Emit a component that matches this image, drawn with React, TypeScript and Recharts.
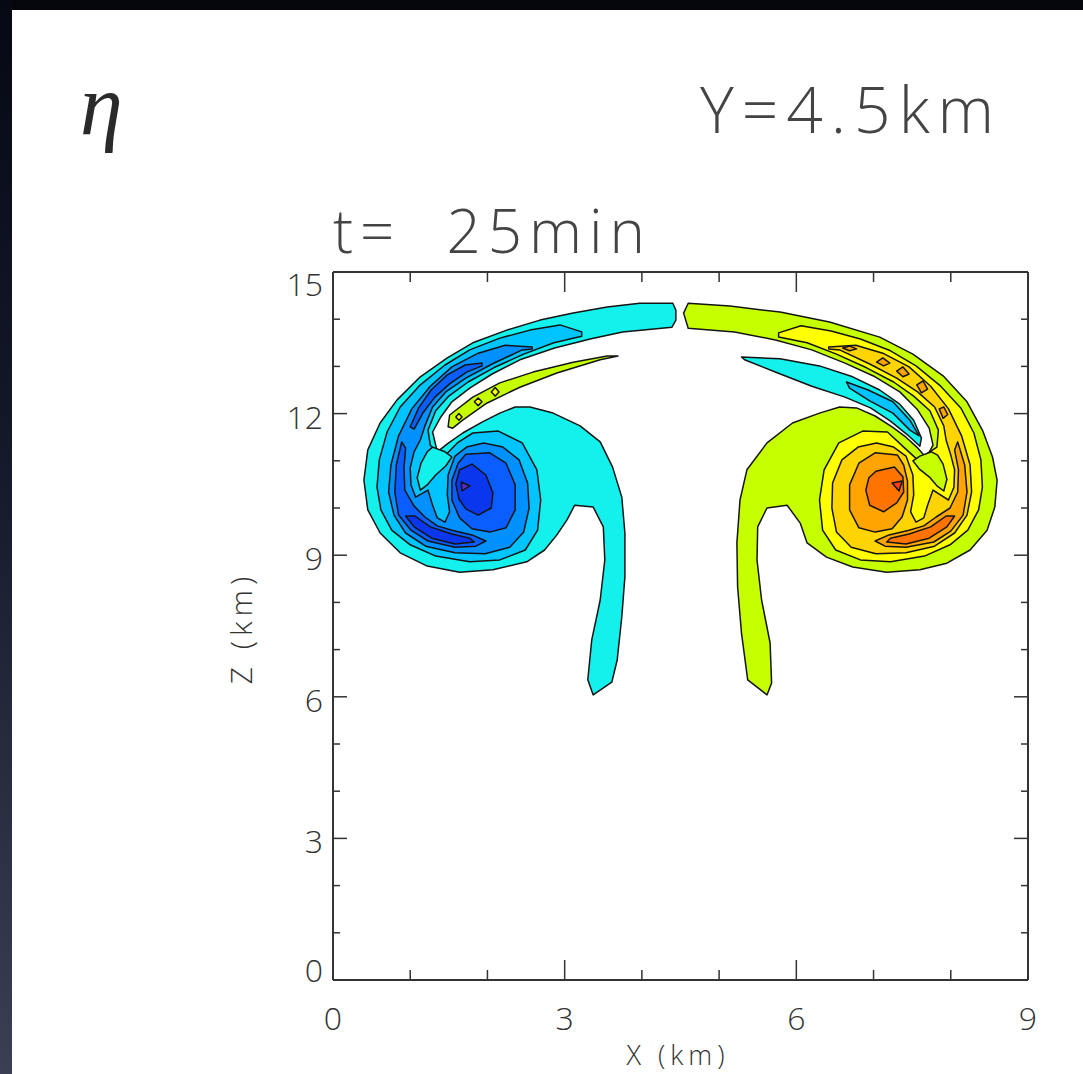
import React from "react";
import { ScatterChart, Scatter, XAxis, YAxis } from "recharts";

// contour polygons, vertices in km: [x, z]
const xTicks = [0, 1, 2, 3, 4, 5, 6, 7, 8, 9];
const zTicks = [0, 1, 2, 3, 4, 5, 6, 7, 8, 9, 10, 11, 12, 13, 14, 15];

// ---- left (negative) vortex ----
const leftLevel1 = [
  [4.40, 14.34], [4.44, 14.19], [4.44, 13.98], [4.39, 13.83], [3.75, 13.73], [3.33, 13.58], [2.87, 13.39],
  [2.42, 13.14], [2.06, 12.84], [1.77, 12.54], [1.54, 12.25], [1.39, 11.91], [1.29, 11.61], [1.35, 11.19],
  [1.48, 11.36], [1.68, 11.59], [1.93, 11.82], [2.16, 12.01], [2.36, 12.14], [2.55, 12.14], [2.85, 12.01],
  [3.20, 11.74], [3.46, 11.40], [3.62, 10.87], [3.74, 10.23], [3.78, 9.47], [3.78, 8.54], [3.74, 7.69],
  [3.68, 6.78], [3.61, 6.31], [3.37, 6.04], [3.30, 6.36], [3.35, 7.20], [3.46, 8.05], [3.52, 8.90],
  [3.50, 9.60], [3.37, 10.02], [3.13, 10.06], [3.03, 9.75], [2.90, 9.43], [2.74, 9.11], [2.51, 8.86],
  [2.07, 8.69], [1.64, 8.64], [1.22, 8.77], [0.87, 9.05], [0.61, 9.47], [0.45, 9.96], [0.40, 10.59],
  [0.45, 11.23], [0.61, 11.80], [0.83, 12.29], [1.13, 12.78], [1.48, 13.18], [1.81, 13.50], [2.25, 13.77],
  [2.68, 13.98], [3.11, 14.13], [3.55, 14.26], [3.97, 14.34],
];
const leftLevel2 = [
  [3.22, 13.73], [2.94, 13.88], [2.55, 13.77], [2.16, 13.60], [1.77, 13.35], [1.45, 13.03], [1.13, 12.61],
  [0.87, 12.14], [0.70, 11.61], [0.60, 11.02], [0.57, 10.44], [0.62, 9.96], [0.76, 9.53], [1.00, 9.22],
  [1.33, 8.98], [1.77, 8.86], [2.16, 8.90], [2.49, 9.11], [2.65, 9.53], [2.69, 10.17], [2.64, 10.81],
  [2.45, 11.38], [2.14, 11.63], [1.81, 11.59], [1.61, 11.38], [1.42, 11.06], [1.26, 11.33], [1.23, 11.65],
  [1.33, 12.06], [1.50, 12.37], [1.75, 12.67], [2.08, 12.97], [2.47, 13.26], [2.86, 13.50], [3.22, 13.64],
];
const leftFinger = [
  [1.29, 11.29], [1.45, 11.19], [1.54, 11.08], [1.46, 10.89], [1.33, 10.70], [1.22, 10.49], [1.13, 10.38],
  [1.09, 10.64], [1.14, 10.95], [1.22, 11.19],
];
const leftLevel3 = [
  [2.58, 13.41], [2.23, 13.45], [1.88, 13.28], [1.54, 12.99], [1.26, 12.58], [1.02, 12.10], [0.85, 11.53],
  [0.75, 10.91], [0.72, 10.34], [0.79, 9.85], [0.94, 9.47], [1.20, 9.19], [1.58, 9.05], [1.97, 9.03],
  [2.29, 9.17], [2.47, 9.49], [2.54, 10.00], [2.52, 10.53], [2.41, 11.02], [2.20, 11.29], [1.95, 11.38],
  [1.73, 11.29], [1.58, 11.10], [1.49, 10.70], [1.48, 10.28], [1.51, 9.92], [1.45, 9.70], [1.35, 9.79],
  [1.29, 10.06], [1.23, 10.38], [1.07, 10.23], [1.01, 10.49], [1.00, 10.85], [1.05, 11.19], [1.13, 11.44],
  [1.19, 11.74], [1.29, 12.14], [1.46, 12.46], [1.72, 12.75], [2.06, 13.05], [2.45, 13.35], [2.58, 13.37],
];
const leftArmStrip = [
  [1.93, 13.07], [1.71, 13.03], [1.48, 12.82], [1.27, 12.50], [1.11, 12.12], [1.00, 11.72], [1.05, 11.67],
  [1.17, 12.03], [1.32, 12.35], [1.51, 12.63], [1.73, 12.88], [1.93, 13.01],
];
const leftLowerBand = [
  [0.89, 11.40], [0.82, 10.91], [0.80, 10.34], [0.85, 9.85], [1.01, 9.53], [1.23, 9.30], [1.58, 9.17],
  [1.85, 9.19], [1.98, 9.30], [1.80, 9.43], [1.54, 9.53], [1.35, 9.62], [1.19, 9.81], [1.05, 10.04],
  [0.93, 10.38], [0.92, 10.85], [0.94, 11.27],
];
const leftCoreRing = [
  [1.72, 11.14], [2.03, 11.17], [2.24, 10.95], [2.36, 10.49], [2.36, 9.96], [2.24, 9.58], [2.03, 9.49],
  [1.80, 9.56], [1.64, 9.79], [1.54, 10.17], [1.54, 10.59], [1.62, 10.95],
];
const leftLowerCore = [
  [0.94, 9.83], [1.06, 9.83], [1.26, 9.60], [1.54, 9.45], [1.77, 9.36], [1.83, 9.28], [1.58, 9.24],
  [1.28, 9.36], [1.05, 9.60],
];
const leftCore = [
  [1.64, 10.81], [1.80, 10.93], [1.98, 10.70], [2.07, 10.32], [2.05, 10.00], [1.88, 9.85], [1.72, 9.98],
  [1.63, 10.19], [1.59, 10.51],
];
const leftCenter = [[1.66, 10.55], [1.77, 10.47], [1.67, 10.36]];
const leftTongue = [
  [1.49, 11.72], [1.51, 11.97], [1.81, 12.35], [2.16, 12.65], [2.59, 12.88], [3.11, 13.09], [3.55, 13.22],
  [3.69, 13.22], [3.46, 13.14], [2.90, 12.86], [2.42, 12.56], [1.99, 12.22], [1.68, 11.86], [1.55, 11.69],
];
const leftSpotA = [[2.05, 12.46], [2.10, 12.55], [2.15, 12.46], [2.10, 12.37]];
const leftSpotB = [[1.83, 12.25], [1.88, 12.33], [1.93, 12.25], [1.88, 12.17]];
const leftSpotC = [[1.59, 11.93], [1.63, 12.00], [1.67, 11.93], [1.63, 11.86]];

// ---- right (positive) vortex ----
const rightLevel1 = [
  [4.60, 14.34], [4.54, 14.13], [4.60, 13.81], [5.20, 13.73], [5.73, 13.56], [6.20, 13.35], [6.63, 13.07],
  [7.02, 12.78], [7.34, 12.46], [7.57, 12.08], [7.72, 11.69], [7.77, 11.33], [7.70, 11.12], [7.65, 11.12],
  [7.56, 11.29], [7.42, 11.50], [7.24, 11.72], [7.02, 11.95], [6.78, 12.12], [6.56, 12.14], [6.30, 12.01],
  [5.95, 11.80], [5.62, 11.38], [5.36, 10.81], [5.27, 10.17], [5.23, 9.26], [5.24, 8.33], [5.29, 7.35],
  [5.37, 6.36], [5.62, 6.04], [5.68, 6.29], [5.66, 7.14], [5.55, 8.05], [5.49, 8.90], [5.50, 9.60],
  [5.62, 10.00], [5.88, 10.06], [6.05, 9.68], [6.14, 9.26], [6.39, 8.96], [6.73, 8.75], [7.17, 8.64],
  [7.60, 8.69], [7.95, 8.83], [8.25, 9.11], [8.47, 9.53], [8.57, 10.02], [8.60, 10.59], [8.54, 11.08],
  [8.41, 11.65], [8.21, 12.25], [7.90, 12.80], [7.51, 13.26], [7.08, 13.62], [6.43, 13.94], [5.79, 14.15],
  [5.14, 14.28],
];
const rightLevel2 = [
  [5.77, 13.71], [6.06, 13.86], [6.45, 13.75], [6.83, 13.58], [7.22, 13.33], [7.55, 13.01], [7.87, 12.58],
  [8.13, 12.12], [8.30, 11.59], [8.39, 11.02], [8.41, 10.44], [8.36, 9.96], [8.22, 9.53], [7.99, 9.22],
  [7.66, 8.98], [7.22, 8.86], [6.83, 8.90], [6.51, 9.11], [6.34, 9.53], [6.30, 10.17], [6.36, 10.81],
  [6.55, 11.38], [6.86, 11.63], [7.18, 11.61], [7.39, 11.29], [7.57, 11.02], [7.82, 11.29], [7.84, 11.65],
  [7.73, 12.06], [7.52, 12.37], [7.26, 12.67], [6.91, 12.97], [6.52, 13.26], [6.14, 13.50], [5.77, 13.62],
];
const rightFinger = [
  [7.75, 11.19], [7.60, 11.10], [7.51, 11.00], [7.59, 10.83], [7.72, 10.66], [7.82, 10.47], [7.91, 10.36],
  [7.95, 10.61], [7.90, 10.93], [7.83, 11.12],
];
const rightLevel3 = [
  [6.42, 13.41], [6.77, 13.45], [7.12, 13.28], [7.46, 12.99], [7.74, 12.58], [7.97, 12.10], [8.14, 11.53],
  [8.25, 10.91], [8.27, 10.34], [8.21, 9.85], [8.05, 9.47], [7.79, 9.19], [7.42, 9.05], [7.03, 9.03],
  [6.71, 9.17], [6.52, 9.49], [6.46, 10.00], [6.47, 10.53], [6.59, 11.02], [6.80, 11.29], [7.04, 11.38],
  [7.26, 11.29], [7.42, 11.10], [7.51, 10.70], [7.52, 10.28], [7.48, 9.92], [7.55, 9.70], [7.65, 9.79],
  [7.70, 10.06], [7.77, 10.38], [7.97, 10.17], [8.04, 10.44], [8.05, 10.81], [8.00, 11.12], [7.94, 11.44],
  [7.91, 11.74], [7.79, 12.14], [7.57, 12.46], [7.30, 12.75], [6.95, 13.05], [6.56, 13.35], [6.42, 13.37],
];
const rightIslandA = [[6.60, 13.39], [6.69, 13.43], [6.78, 13.37], [6.69, 13.33]];
const rightIslandB = [[7.04, 13.09], [7.12, 13.18], [7.21, 13.07], [7.13, 13.01]];
const rightIslandC = [[7.30, 12.90], [7.38, 12.99], [7.46, 12.84], [7.38, 12.78]];
const rightIslandD = [[7.56, 12.61], [7.64, 12.69], [7.70, 12.52], [7.62, 12.44]];
const rightIslandE = [[7.85, 12.10], [7.91, 12.14], [7.96, 11.98], [7.90, 11.90]];
const rightLowerBand = [
  [8.09, 11.40], [8.18, 10.91], [8.21, 10.34], [8.16, 9.85], [8.00, 9.51], [7.78, 9.28], [7.42, 9.17],
  [7.15, 9.19], [7.02, 9.30], [7.20, 9.43], [7.46, 9.53], [7.65, 9.62], [7.81, 9.81], [7.99, 10.00],
  [8.09, 10.34], [8.10, 10.81], [8.05, 11.23],
];
const rightCoreRing = [
  [7.31, 11.12], [7.02, 11.17], [6.81, 10.95], [6.69, 10.49], [6.69, 9.96], [6.81, 9.58], [7.02, 9.49],
  [7.24, 9.56], [7.37, 9.81], [7.44, 10.17], [7.44, 10.57], [7.39, 10.91],
];
const rightLowerCore = [
  [8.05, 9.83], [7.94, 9.83], [7.74, 9.60], [7.46, 9.45], [7.22, 9.36], [7.17, 9.28], [7.42, 9.24],
  [7.72, 9.36], [7.95, 9.60],
];
const rightCore = [
  [7.03, 10.78], [7.27, 10.87], [7.38, 10.66], [7.39, 10.34], [7.30, 10.11], [7.13, 9.92], [6.95, 10.06],
  [6.90, 10.38], [6.94, 10.64],
];
const rightCenter = [[7.24, 10.53], [7.37, 10.57], [7.33, 10.36]];
const rightTongue = [
  [5.29, 13.20], [5.79, 13.16], [6.30, 13.01], [6.73, 12.78], [7.08, 12.50], [7.34, 12.20], [7.52, 11.86],
  [7.62, 11.48], [7.60, 11.31], [7.44, 11.55], [7.22, 11.84], [6.96, 12.12], [6.63, 12.35], [6.20, 12.58],
  [5.76, 12.86], [5.33, 13.14],
];
const rightTongueCore = [
  [6.65, 12.67], [6.93, 12.50], [7.25, 12.25], [7.47, 11.86], [7.59, 11.53], [7.47, 11.65], [7.25, 12.01],
  [6.95, 12.27], [6.69, 12.54],
];

const BLUES = ["#14F0EC", "#00C4FF", "#0090FF", "#0A5EFF", "#0A36EE", "#5C2CC6"];
const WARMS = ["#C6FF00", "#FFFF00", "#FFD400", "#FFA400", "#FF7400", "#FF3C12"];

// drawing order = painter's order, lowest level first
const layers: { id: string; tone: string; pts: number[][] }[] = [
  { id: "l1", tone: BLUES[0], pts: leftLevel1 },
  { id: "l2", tone: BLUES[1], pts: leftLevel2 },
  { id: "lFinger", tone: BLUES[0], pts: leftFinger },
  { id: "l3", tone: BLUES[2], pts: leftLevel3 },
  { id: "lArm", tone: BLUES[3], pts: leftArmStrip },
  { id: "lBand", tone: BLUES[3], pts: leftLowerBand },
  { id: "lRing", tone: BLUES[3], pts: leftCoreRing },
  { id: "lLow", tone: BLUES[4], pts: leftLowerCore },
  { id: "lCore", tone: BLUES[4], pts: leftCore },
  { id: "lCenter", tone: BLUES[5], pts: leftCenter },
  { id: "lTongue", tone: WARMS[0], pts: leftTongue },
  { id: "lSpotA", tone: WARMS[1], pts: leftSpotA },
  { id: "lSpotB", tone: WARMS[1], pts: leftSpotB },
  { id: "lSpotC", tone: WARMS[1], pts: leftSpotC },
  { id: "r1", tone: WARMS[0], pts: rightLevel1 },
  { id: "r2", tone: WARMS[1], pts: rightLevel2 },
  { id: "rFinger", tone: WARMS[0], pts: rightFinger },
  { id: "r3", tone: WARMS[2], pts: rightLevel3 },
  { id: "rIsA", tone: WARMS[3], pts: rightIslandA },
  { id: "rIsB", tone: WARMS[3], pts: rightIslandB },
  { id: "rIsC", tone: WARMS[3], pts: rightIslandC },
  { id: "rIsD", tone: WARMS[3], pts: rightIslandD },
  { id: "rIsE", tone: WARMS[3], pts: rightIslandE },
  { id: "rBand", tone: WARMS[3], pts: rightLowerBand },
  { id: "rRing", tone: WARMS[3], pts: rightCoreRing },
  { id: "rLow", tone: WARMS[4], pts: rightLowerCore },
  { id: "rCore", tone: WARMS[4], pts: rightCore },
  { id: "rCenter", tone: WARMS[5], pts: rightCenter },
  { id: "rTongue", tone: BLUES[0], pts: rightTongue },
  { id: "rTongueCore", tone: BLUES[1], pts: rightTongueCore },
];

const FONT = "'Open Sans', 'Liberation Sans', Arial, sans-serif";
const INK = "#333";

function ContourPath(props: any) {
  const { points, tone } = props;
  if (!points || points.length < 3) return <g />;
  const d =
    points.map((p: any, i: number) => `${i ? "L" : "M"}${p.x.toFixed(1)},${p.y.toFixed(1)}`).join("") + "Z";
  return <path d={d} fill={tone} stroke="#141414" strokeWidth={1.5} strokeLinejoin="round" />;
}

const NoDot = () => <g />;

function BottomTick({ x, y, payload }: any) {
  const v = payload.value;
  const major = v % 3 === 0;
  return (
    <g>
      {v > 0 && v < 9 && <line x1={x} x2={x} y1={y} y2={y - (major ? 20 : 10)} stroke={INK} strokeWidth={1.5} />}
      {major && (
        <text x={x} y={y + 50} textAnchor="middle" fontFamily={FONT} fontWeight={300} fontSize={32} fill={INK}>
          {v}
        </text>
      )}
    </g>
  );
}

function TopTick({ x, y, payload }: any) {
  const v = payload.value;
  if (v <= 0 || v >= 9) return <g />;
  return <line x1={x} x2={x} y1={y} y2={y + (v % 3 === 0 ? 20 : 10)} stroke={INK} strokeWidth={1.5} />;
}

function LeftTick({ x, y, payload }: any) {
  const v = payload.value;
  const major = v % 3 === 0;
  const dy = v === 15 ? 13 : v === 0 ? -9 : 4;
  return (
    <g>
      {v > 0 && v < 15 && <line x1={x} x2={x + (major ? 14 : 7)} y1={y} y2={y} stroke={INK} strokeWidth={1.5} />}
      {major && (
        <text x={x - 10} y={y + dy + 11} textAnchor="end" fontFamily={FONT} fontWeight={300} fontSize={32} fill={INK}>
          {v}
        </text>
      )}
    </g>
  );
}

function RightTick({ x, y, payload }: any) {
  const v = payload.value;
  if (v <= 0 || v >= 15) return <g />;
  return <line x1={x} x2={x - (v % 3 === 0 ? 14 : 7)} y1={y} y2={y} stroke={INK} strokeWidth={1.5} />;
}

const axisLine = { stroke: INK, strokeWidth: 2 };

export default function App() {
  return (
    <div style={{ position: "absolute", left: 0, top: 0, width: 1083, height: 1074, background: "#fff", overflow: "hidden" }}>
      <div style={{ position: "absolute", left: 0, top: 0, width: 1083, height: 10, background: "#04060c" }} />
      <div
        style={{
          position: "absolute",
          left: 0,
          top: 0,
          width: 12,
          height: 1074,
          background: "linear-gradient(180deg, #060914 0%, #151a2c 45%, #3a3f54 100%)",
        }}
      />
      <div style={{ position: "absolute", left: 0, top: 0 }}>
        <ScatterChart width={1083} height={1074} margin={{ top: 271, right: 54, bottom: 0, left: 0 }}>
          <XAxis
            xAxisId="x"
            type="number"
            dataKey="x"
            domain={[0, 9]}
            ticks={xTicks}
            interval={0}
            allowDataOverflow
            height={94}
            tickSize={0}
            tickMargin={0}
            tickLine={false}
            axisLine={axisLine}
            tick={<BottomTick />}
          />
          <XAxis
            xAxisId="top"
            orientation="top"
            type="number"
            dataKey="x"
            domain={[0, 9]}
            ticks={xTicks}
            interval={0}
            allowDataOverflow
            height={1}
            tickSize={0}
            tickMargin={0}
            tickLine={false}
            axisLine={axisLine}
            tick={<TopTick />}
          />
          <YAxis
            yAxisId="z"
            type="number"
            dataKey="z"
            domain={[0, 15]}
            ticks={zTicks}
            interval={0}
            allowDataOverflow
            width={333}
            tickSize={0}
            tickMargin={0}
            tickLine={false}
            axisLine={axisLine}
            tick={<LeftTick />}
          />
          <YAxis
            yAxisId="right"
            orientation="right"
            type="number"
            dataKey="z"
            domain={[0, 15]}
            ticks={zTicks}
            interval={0}
            allowDataOverflow
            width={1}
            tickSize={0}
            tickMargin={0}
            tickLine={false}
            axisLine={axisLine}
            tick={<RightTick />}
          />
          {layers.map((layer) => (
            <Scatter
              key={layer.id}
              name={layer.id}
              xAxisId="x"
              yAxisId="z"
              data={layer.pts.map(([x, z]) => ({ x, z }))}
              line={<ContourPath tone={layer.tone} />}
              lineType="joint"
              shape={NoDot}
              legendType="none"
              isAnimationActive={false}
            />
          ))}
        </ScatterChart>
      </div>
      <svg width={1083} height={1074} style={{ position: "absolute", left: 0, top: 0, pointerEvents: "none" }}>
        <text x={80} y={134} fontFamily="'Liberation Serif', 'DejaVu Serif', serif" fontStyle="italic" fontSize={86} fill="#2a2a2a">
          η
        </text>
        <text x={700} y={133} fontFamily={FONT} fontWeight={300} fontSize={64} letterSpacing={8} fill="#444">
          Y=4.5km
        </text>
        <text x={333} y={253} fontFamily={FONT} fontWeight={300} fontSize={60} letterSpacing={7} fill="#444" style={{ whiteSpace: "pre" }}>
          {"t=  25min"}
        </text>
        <text x={678} y={1065} textAnchor="middle" fontFamily={FONT} fontWeight={300} fontSize={27} letterSpacing={5} fill={INK}>
          X (km)
        </text>
        <text
          x={252}
          y={628}
          transform="rotate(-90 252 628)"
          textAnchor="middle"
          fontFamily={FONT}
          fontWeight={300}
          fontSize={30}
          letterSpacing={5}
          fill={INK}
        >
          Z (km)
        </text>
      </svg>
    </div>
  );
}
